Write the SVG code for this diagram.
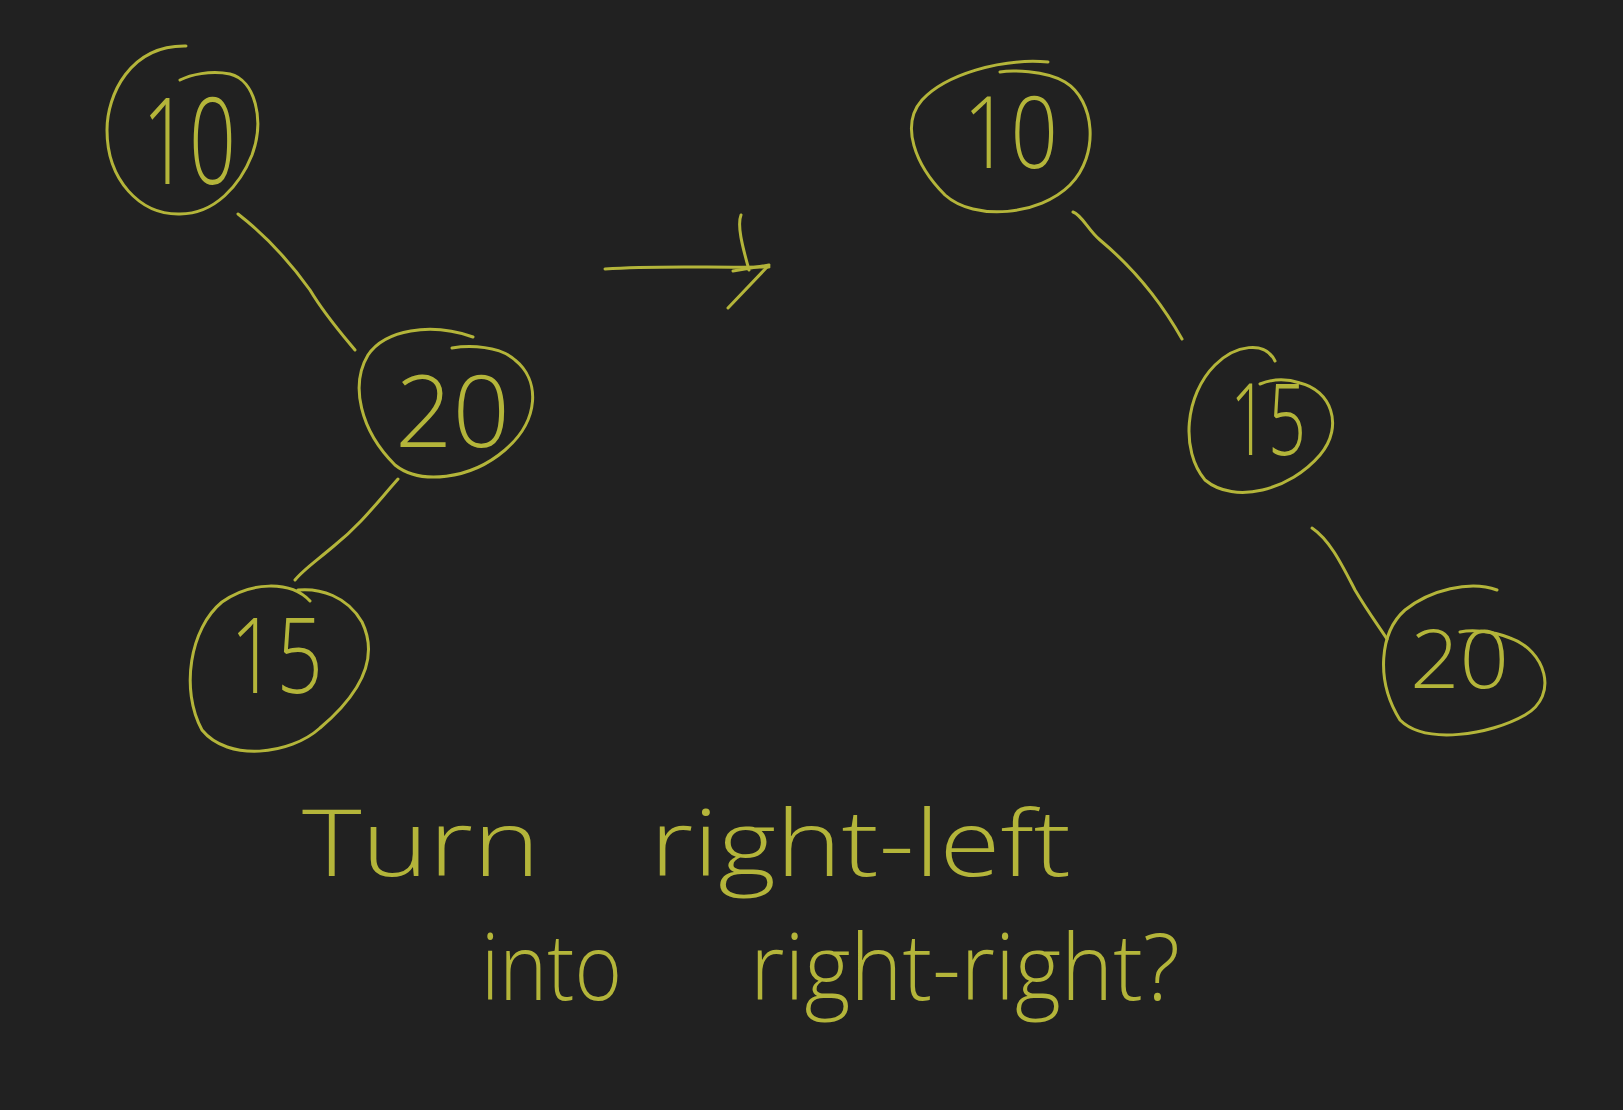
<svg xmlns="http://www.w3.org/2000/svg" width="1623" height="1110" viewBox="0 0 1623 1110">
<style>
.ink{fill:none;stroke:#b4b53a;stroke-width:3;stroke-linecap:round;stroke-linejoin:round}
.lbl{fill:#b4b53a;font-family:"Open Sans","Liberation Sans",sans-serif;font-weight:300;text-anchor:start}
.cap{fill:#b4b53a;font-family:"Open Sans","Liberation Sans",sans-serif;font-weight:300;font-size:92px}
</style>
<rect width="1623" height="1110" fill="#212121"/>
<g id="connectors">
<path class="ink" d="M238,214 C265,235 290,262 310,290 C325,315 340,332 355,350"/>
<path class="ink" d="M398,479 C375,505 360,525 335,545 C315,562 303,570 295,580"/>
<path class="ink" d="M1073,212 C1082,215 1088,230 1100,240 C1130,265 1160,300 1182,339"/>
<path class="ink" d="M1312,528 C1330,540 1342,565 1355,590 C1368,612 1378,625 1387,639"/>
</g>
<g id="arrow">
<path class="ink" d="M605,269 C660,265 710,268 769,267"/>
<path class="ink" d="M741,215 C737,225 742,245 749,270 M733,271 L769,265 L728,308"/>
</g>
<g id="node-left-10">
<path class="ink" d="M186,46 C130,45 107,95 107,130 C107,180 140,215 180,214 C215,214 240,185 252,155 C265,120 255,80 230,74 C210,70 190,75 180,80"/>
<text class="lbl" x="142" y="184" font-size="120" textLength="94" lengthAdjust="spacingAndGlyphs">10</text>
</g>
<g id="node-left-20">
<path class="ink" d="M473,337 C430,322 385,330 368,355 C350,385 360,430 395,465 C420,485 470,480 505,450 C540,420 540,380 515,360 C500,346 470,345 452,348"/>
<text class="lbl" x="395" y="447" font-size="100" textLength="115" lengthAdjust="spacingAndGlyphs">20</text>
</g>
<g id="node-left-15">
<path class="ink" d="M310,601 C290,580 250,582 222,602 C190,628 180,690 202,730 C228,762 290,755 320,728 C365,690 378,655 362,622 C347,596 320,588 298,590"/>
<text class="lbl" x="230" y="693" font-size="105" textLength="93" lengthAdjust="spacingAndGlyphs">15</text>
</g>
<g id="node-right-10">
<path class="ink" d="M1048,62 C1000,58 945,75 922,100 C900,125 915,165 945,195 C975,222 1040,215 1070,185 C1100,155 1095,100 1065,82 C1045,70 1010,70 1000,72"/>
<text class="lbl" x="963" y="168" font-size="100" textLength="95" lengthAdjust="spacingAndGlyphs">10</text>
</g>
<g id="node-right-15">
<path class="ink" d="M1275,361 C1265,340 1235,345 1215,365 C1185,395 1180,450 1205,480 C1235,505 1290,490 1320,455 C1345,425 1330,390 1300,383 C1285,378 1270,380 1260,384"/>
<text class="lbl" x="1230" y="455" font-size="100" textLength="76" lengthAdjust="spacingAndGlyphs">15</text>
</g>
<g id="node-right-20">
<path class="ink" d="M1497,590 C1470,580 1430,590 1405,610 C1380,632 1375,680 1400,720 C1425,745 1490,735 1525,715 C1560,695 1545,650 1510,638 C1490,630 1470,630 1460,632"/>
<text class="lbl" x="1410" y="688" font-size="82" textLength="99" lengthAdjust="spacingAndGlyphs">20</text>
</g>
<g id="caption">
<text class="cap" x="302" y="876" textLength="238" lengthAdjust="spacingAndGlyphs">Turn</text>
<text class="cap" x="650" y="876" textLength="421" lengthAdjust="spacingAndGlyphs">right-left</text>
<text class="cap" x="481" y="1000" textLength="141" lengthAdjust="spacingAndGlyphs">into</text>
<text class="cap" x="750" y="1000" textLength="430" lengthAdjust="spacingAndGlyphs">right-right?</text>
</g>
</svg>
